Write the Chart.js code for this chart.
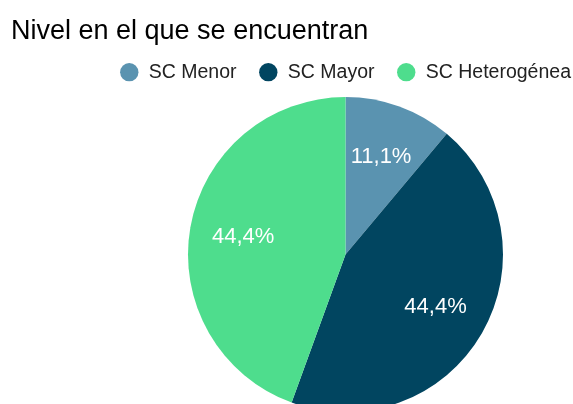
<!DOCTYPE html>
<html>
<head>
<meta charset="utf-8">
<script src="https://cdn.jsdelivr.net/npm/chart.js@4"></script>
<style>
  html, body { margin: 0; padding: 0; background: #fff; overflow: hidden; }
  #wrap { width: 573px; height: 404px; }
</style>
</head>
<body>
<div id="wrap"><canvas id="myChart" width="573" height="404"></canvas></div>
<script>
const chartTitle = "Nivel en el que se encuentran";
const categories = ["SC Menor", "SC Mayor", "SC Heterogénea"];
const counts = [1, 4, 4];
const sliceColors = ["#5a93b0", "#014560", "#4edd8d"];

// the pie sits right of center and runs off the bottom edge
const pieArea = {
  shiftX: 59,
  top: 97,
  size: 315,
};

const movePie = {
  id: "movePie",
  afterLayout: (chart) => {
    const w = chart.width;
    const left = (w - pieArea.size) / 2 + pieArea.shiftX;
    chart.chartArea = {
      left: left,
      top: pieArea.top,
      right: left + pieArea.size,
      bottom: pieArea.top + pieArea.size,
      width: pieArea.size,
      height: pieArea.size,
    };
    // title indented a bit, legend flush to the right edge
    chart.titleBlock.left += 11;
    chart.titleBlock.right += 11;
    const legend = chart.legend;
    legend.right += 20;
    legend.left += 20;
  },
};

const percentLabels = {
  id: "percentLabels",
  afterDatasetsDraw: (chart) => {
    const ctx = chart.ctx;
    const total = counts.reduce((a, b) => a + b, 0);
    const meta = chart.getDatasetMeta(0);
    ctx.save();
    ctx.font = "22px 'Liberation Sans', Arial, sans-serif";
    ctx.fillStyle = "#ffffff";
    ctx.textAlign = "center";
    ctx.textBaseline = "middle";
    meta.data.forEach((arc, i) => {
      const p = arc.getProps(["x", "y", "startAngle", "endAngle", "outerRadius"], true);
      const mid = (p.startAngle + p.endAngle) / 2;
      const r = p.outerRadius * 0.66;
      const txt = ((counts[i] / total) * 100).toFixed(1).replace(".", ",") + "%";
      ctx.fillText(txt, p.x + Math.cos(mid) * r, p.y + Math.sin(mid) * r);
    });
    ctx.restore();
  },
};

const config = {
  type: "pie",
  data: {
    labels: categories,
    datasets: [
      {
        data: counts,
        backgroundColor: sliceColors,
        borderWidth: 0,
      },
    ],
  },
  options: {
    responsive: false,
    animation: false,
    plugins: {
      title: {
        display: true,
        text: chartTitle,
        align: "start",
        color: "#000000",
        font: { family: "'Liberation Sans', Arial, sans-serif", size: 27, weight: "normal" },
        padding: { top: 15, bottom: -7 },
      },
      legend: {
        position: "top",
        align: "end",
        labels: {
          usePointStyle: true,
          pointStyle: "circle",
          boxWidth: 20,
          boxHeight: 13,
          padding: 22,
          color: "#222222",
          font: { family: "'Liberation Sans', Arial, sans-serif", size: 19.5 },
        },
      },
      tooltip: { enabled: false },
    },
  },
  plugins: [movePie, percentLabels],
};

window.onload = () => {
  new Chart(document.getElementById("myChart"), config);
};
</script>
</body>
</html>
